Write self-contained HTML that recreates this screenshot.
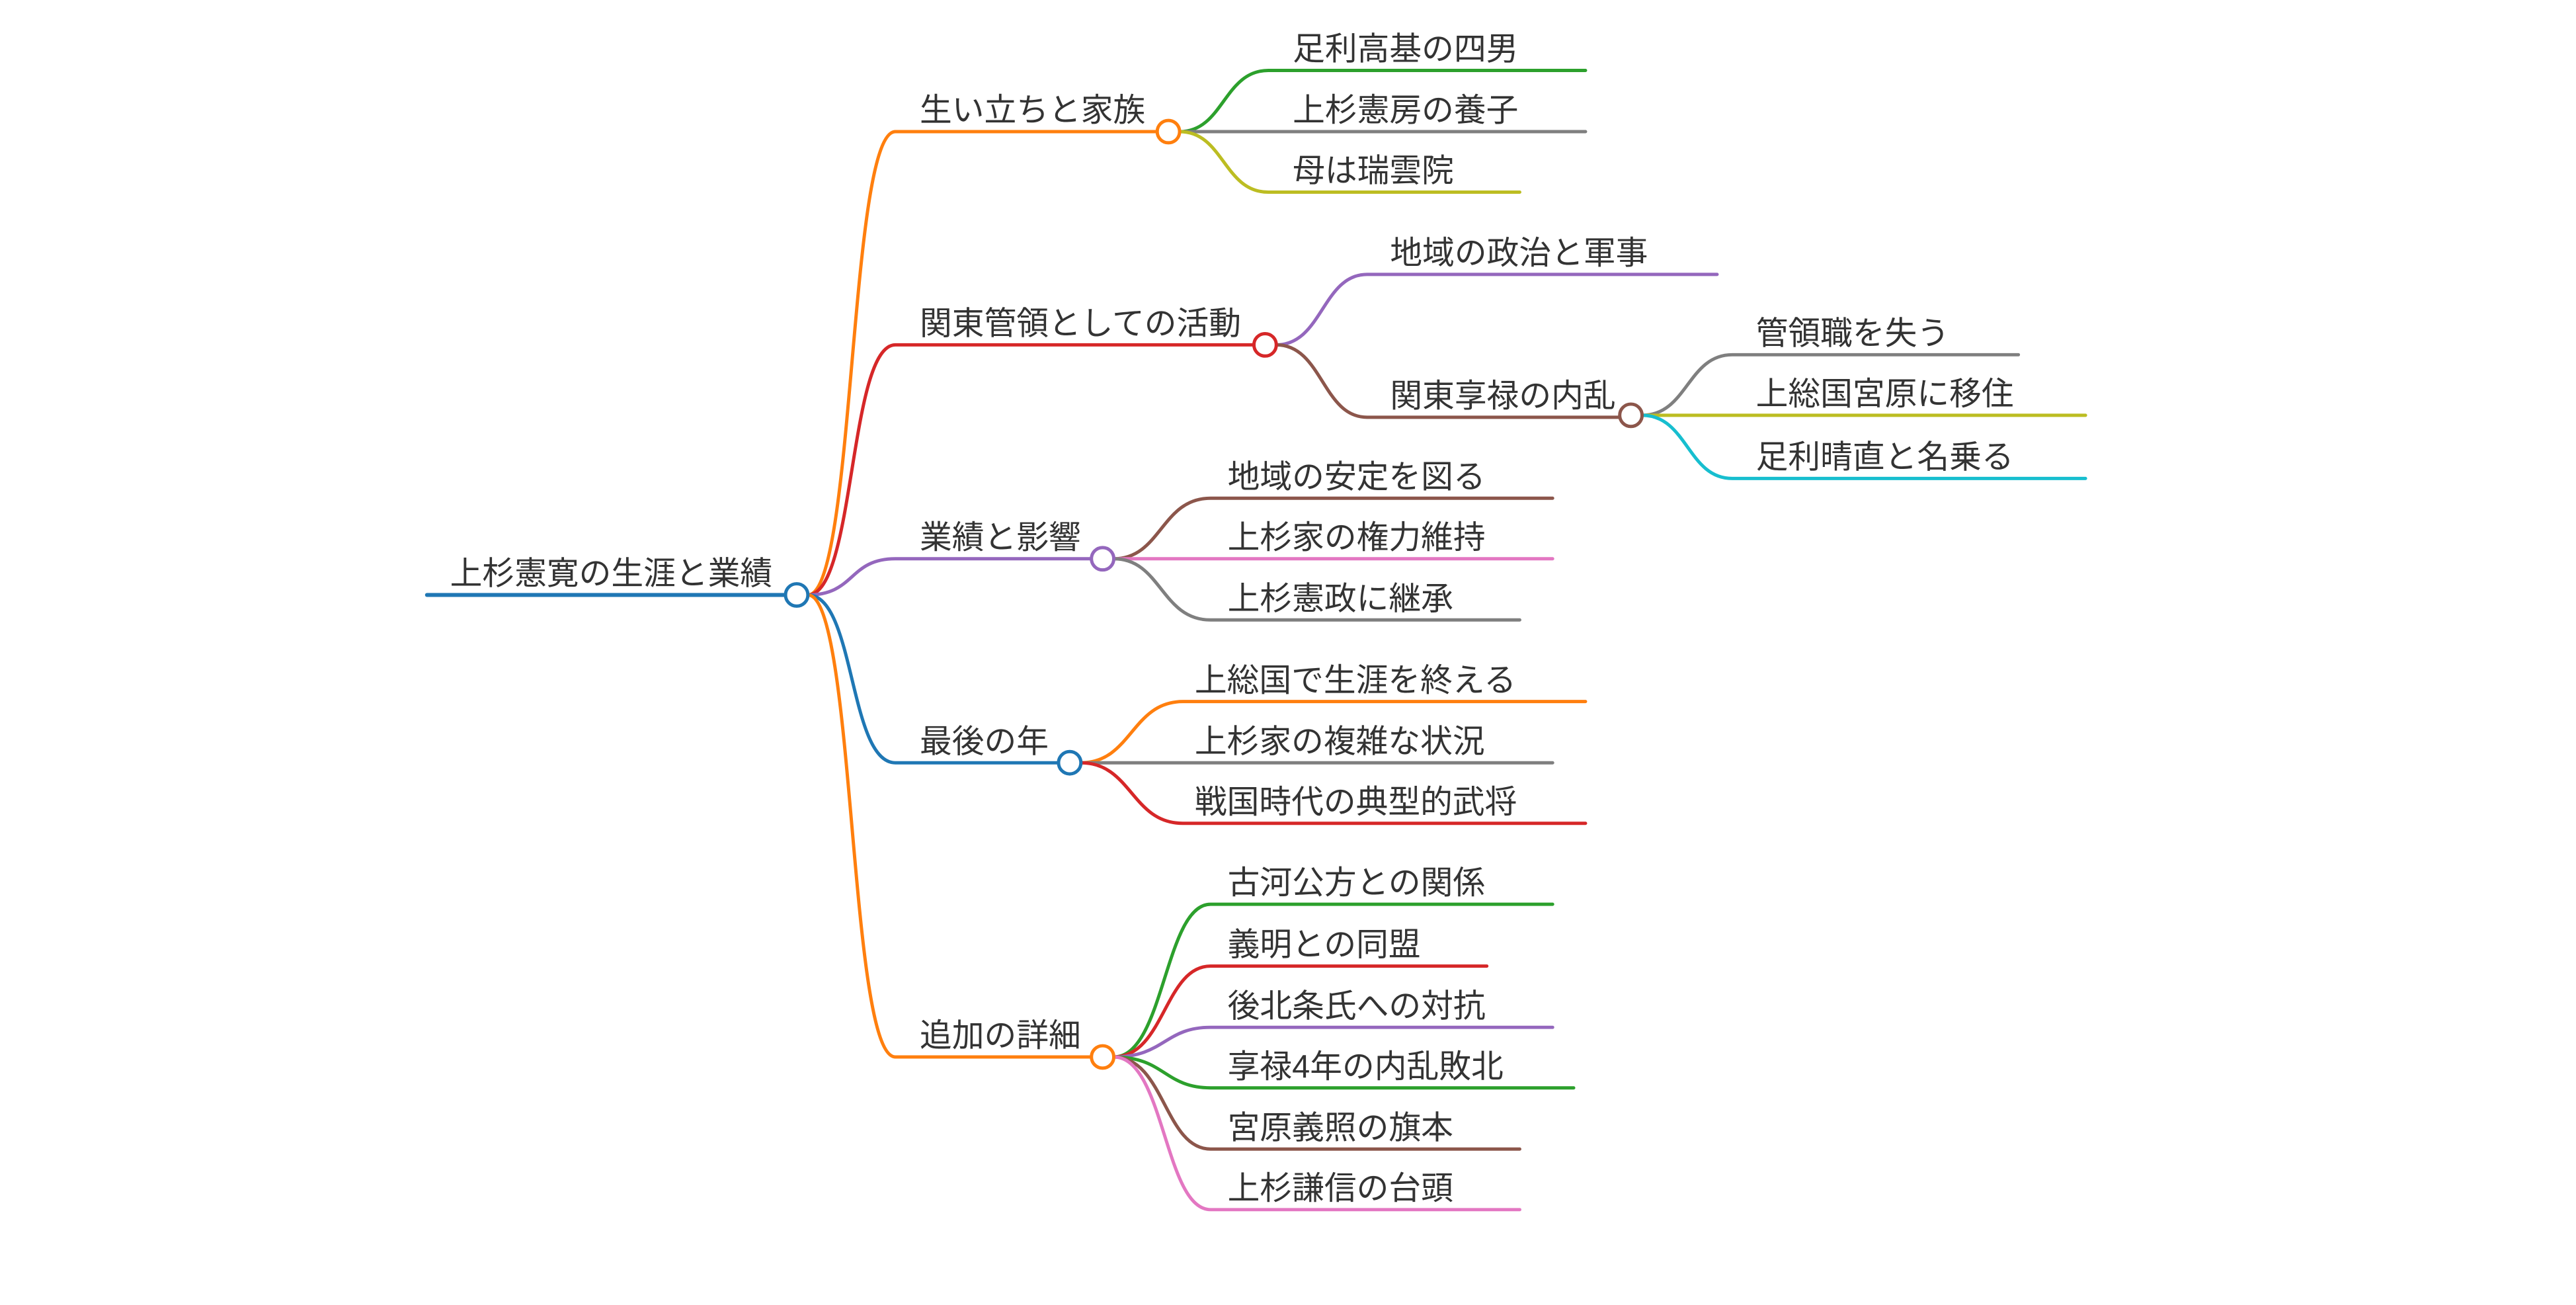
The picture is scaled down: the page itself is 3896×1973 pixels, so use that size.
<!DOCTYPE html>
<html><head><meta charset="utf-8"><style>
html,body{margin:0;padding:0;background:#fff;}
svg{display:block;}
text{font-family:"Liberation Sans","Noto Sans CJK JP",sans-serif;font-size:49px;fill:#333;}
</style></head><body>
<svg width="3896" height="1973" viewBox="0 0 3896 1973" xmlns="http://www.w3.org/2000/svg">
<g transform="scale(0.995)">
<g fill="none" stroke-width="5" stroke-linecap="round">
<path d="M649 904 H1194" stroke="#1f77b4" stroke-width="6"/>
<path d="M1228 904 C1300 904 1290 200 1361 200 H1759" stroke="#ff7f0e"/>
<path d="M1228 904 C1300 904 1290 524 1361 524 H1906" stroke="#d62728"/>
<path d="M1228 904 C1300 904 1290 849 1361 849 H1659" stroke="#9467bd"/>
<path d="M1228 904 C1300 904 1290 1159 1361 1159 H1609" stroke="#1f77b4"/>
<path d="M1228 904 C1300 904 1290 1606 1361 1606 H1659" stroke="#ff7f0e"/>
<path d="M1793 200 C1860 200 1860 107 1928 107 H2410" stroke="#2ca02c"/>
<path d="M1793 200 H2410" stroke="#7f7f7f"/>
<path d="M1793 200 C1860 200 1860 292 1928 292 H2310" stroke="#bcbd22"/>
<path d="M1940 524 C2010 524 2010 417 2078 417 H2610" stroke="#9467bd"/>
<path d="M1940 524 C2010 524 2010 634 2078 634 H2472" stroke="#8c564b"/>
<path d="M2496 631 C2565 631 2565 539 2633 539 H3068" stroke="#7f7f7f"/>
<path d="M2496 631 H3170" stroke="#bcbd22"/>
<path d="M2496 631 C2565 631 2565 727 2633 727 H3170" stroke="#17becf"/>
<path d="M1693 849 C1765 849 1765 757 1840 757 H2360" stroke="#8c564b"/>
<path d="M1693 849 H2360" stroke="#e377c2"/>
<path d="M1693 849 C1765 849 1765 942 1840 942 H2310" stroke="#7f7f7f"/>
<path d="M1643 1159 C1720 1159 1720 1066 1798 1066 H2410" stroke="#ff7f0e"/>
<path d="M1643 1159 H2360" stroke="#7f7f7f"/>
<path d="M1643 1159 C1720 1159 1720 1251 1798 1251 H2410" stroke="#d62728"/>
<path d="M1693 1606 C1770 1606 1770 1374 1840 1374 H2360" stroke="#2ca02c"/>
<path d="M1693 1606 C1770 1606 1770 1468 1840 1468 H2260" stroke="#d62728"/>
<path d="M1693 1606 C1770 1606 1770 1561 1840 1561 H2360" stroke="#9467bd"/>
<path d="M1693 1606 C1770 1606 1770 1653 1840 1653 H2392" stroke="#2ca02c"/>
<path d="M1693 1606 C1770 1606 1770 1746 1840 1746 H2310" stroke="#8c564b"/>
<path d="M1693 1606 C1770 1606 1770 1838 1840 1838 H2310" stroke="#e377c2"/>
</g>
<g fill="#fff" stroke-width="5">
<circle cx="1211" cy="904" r="17" stroke="#1f77b4"/>
<circle cx="1776" cy="200" r="17" stroke="#ff7f0e"/>
<circle cx="1923" cy="524" r="17" stroke="#d62728"/>
<circle cx="1676" cy="849" r="17" stroke="#9467bd"/>
<circle cx="1626" cy="1159" r="17" stroke="#1f77b4"/>
<circle cx="1676" cy="1606" r="17" stroke="#ff7f0e"/>
<circle cx="2479" cy="631" r="17" stroke="#8c564b"/>
</g>
<text x="684" y="888">上杉憲寛の生涯と業績</text>
<text x="1398" y="184">生い立ちと家族</text>
<text x="1398" y="508">関東管領としての活動</text>
<text x="1398" y="833">業績と影響</text>
<text x="1398" y="1143">最後の年</text>
<text x="1398" y="1590">追加の詳細</text>
<text x="1965" y="91">足利高基の四男</text>
<text x="1965" y="184">上杉憲房の養子</text>
<text x="1965" y="276">母は瑞雲院</text>
<text x="2113" y="401">地域の政治と軍事</text>
<text x="2113" y="618">関東享禄の内乱</text>
<text x="2669" y="523">管領職を失う</text>
<text x="2669" y="615">上総国宮原に移住</text>
<text x="2669" y="711">足利晴直と名乗る</text>
<text x="1866" y="741">地域の安定を図る</text>
<text x="1866" y="833">上杉家の権力維持</text>
<text x="1866" y="926">上杉憲政に継承</text>
<text x="1816" y="1050">上総国で生涯を終える</text>
<text x="1816" y="1143">上杉家の複雑な状況</text>
<text x="1816" y="1235">戦国時代の典型的武将</text>
<text x="1866" y="1358">古河公方との関係</text>
<text x="1866" y="1452">義明との同盟</text>
<text x="1866" y="1545">後北条氏への対抗</text>
<text x="1866" y="1637">享禄4年の内乱敗北</text>
<text x="1866" y="1730">宮原義照の旗本</text>
<text x="1866" y="1822">上杉謙信の台頭</text>
</g>
</svg>
</body></html>
